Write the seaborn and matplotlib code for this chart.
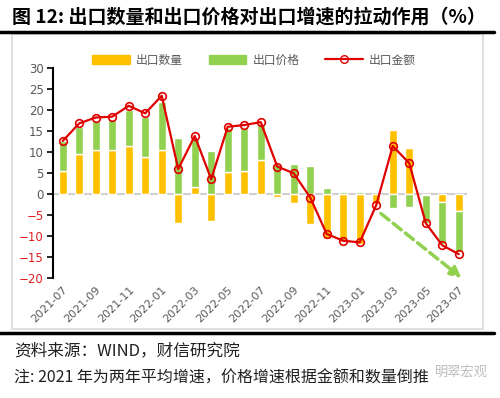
import numpy as np
import pandas as pd
import seaborn as sns
import matplotlib.pyplot as plt
from matplotlib.lines import Line2D
from matplotlib.patches import Patch, Rectangle

months = ['2021-07', '2021-08', '2021-09', '2021-10', '2021-11', '2021-12',
          '2022-01', '2022-02', '2022-03', '2022-04', '2022-05', '2022-06',
          '2022-07', '2022-08', '2022-09', '2022-10', '2022-11', '2022-12',
          '2023-01', '2023-02', '2023-03', '2023-04', '2023-05', '2023-06',
          '2023-07']
# 出口数量 (quantity contribution)
quantity = [5.6, 9.5, 10.6, 10.6, 11.5, 8.8, 10.5, -6.8, 1.6, -6.3, 5.3, 5.6,
            8.2, -0.7, -2.0, -7.1, -10.7, -11.5, -11.9, -2.4, 15.4, 11.0,
            -0.3, -1.8, -4.1]
# 出口价格 (price contribution)
price = [7.0, 6.6, 6.9, 7.1, 8.5, 9.6, 11.6, 13.4, 11.5, 10.3, 10.5, 10.2,
         8.5, 7.3, 7.2, 6.8, 1.4, 0.5, 0.6, -0.2, -3.3, -3.1,
         -6.5, -10.0, -9.8]
# 出口金额 (export value growth)
total = [12.7, 16.9, 18.3, 18.5, 21.1, 19.3, 23.5, 6.0, 13.9, 3.6, 16.1, 16.5,
         17.2, 6.6, 5.0, -0.8, -9.5, -11.1, -11.5, -2.6, 11.5, 7.4,
         -6.9, -12.2, -14.3]

ORANGE = '#FFC000'
GREEN = '#92D050'
RED = '#E00000'
GRAY = '#595959'

sns.set_theme(style='white')
plt.rcParams['font.family'] = ['DejaVu Sans', 'Noto Sans CJK SC']
cjk = ['Noto Sans CJK SC', 'DejaVu Sans']

df = pd.DataFrame({'month': months, 'quantity': quantity,
                   'price': price, 'total': total})
df['x'] = np.arange(len(df))
# Excel-style stacking: same-sign values stack, opposite signs start at zero
q = df['quantity'].to_numpy()
p = df['price'].to_numpy()
price_bottom = np.where(np.sign(p) == np.sign(q), q, 0)

fig = plt.figure(figsize=(5, 3.98), dpi=100)
ax = fig.add_axes([0.1066, 0.3015, 0.8274, 0.5264])

w = 0.5
ax.bar(df['x'], q, width=w, color=ORANGE, zorder=2)
ax.bar(df['x'], p, width=w, bottom=price_bottom, color=GREEN, zorder=2)
ax.axhline(0, color='#D0D0D0', lw=1.5, zorder=1)

sns.lineplot(data=df, x='x', y='total', ax=ax, color=RED, lw=1.6,
             marker='o', markersize=5.5, markerfacecolor='none',
             markeredgecolor=RED, markeredgewidth=1.2, zorder=3)

# downward trend arrow
ax.annotate('', xy=(24.3, -20.4), xytext=(19.15, -4.2),
            arrowprops=dict(arrowstyle='-|>', color=GREEN, lw=2.5,
                            ls=(0, (3, 1.5)), mutation_scale=16),
            annotation_clip=False, zorder=4)

ax.set_xlim(-0.57, 24.5)
ax.set_ylim(-20, 30)
ax.set_yticks(range(-20, 31, 5))
ax.set_xticks(df['x'][::2])
ax.set_xticklabels(df['month'][::2], rotation=45, ha='right',
                   rotation_mode='anchor', fontsize=8, color=GRAY)
ax.tick_params(axis='x', length=0, pad=5)
ax.tick_params(axis='y', direction='out', length=4, width=1.2,
               color='black', labelsize=8.5, pad=3, left=True)
for lab in ax.get_yticklabels():
    v = float(lab.get_text().replace('−', '-'))
    lab.set_color('#E02020' if v < 0 else GRAY)
ax.set_xlabel('')
ax.set_ylabel('')
for s in ['top', 'right', 'bottom']:
    ax.spines[s].set_visible(False)
ax.spines['left'].set_color('black')
ax.spines['left'].set_linewidth(1.5)

handles = [Patch(color=ORANGE), Patch(color=GREEN),
           Line2D([], [], color=RED, lw=1.6, marker='o', markersize=5.5,
                  markerfacecolor='none', markeredgecolor=RED)]
fig.legend(handles, ['出口数量', '出口价格', '出口金额'], loc='center',
           bbox_to_anchor=(0.508, 0.849), ncol=3, frameon=False,
           prop={'family': cjk, 'size': 8.5}, labelcolor=GRAY,
           handlelength=3.2, handleheight=0.7, columnspacing=2.2,
           handletextpad=0.5)

# frame and rules
fig.patches.append(Rectangle((12 / 500, 1 - 329 / 398), 471 / 500, 295 / 398,
                             transform=fig.transFigure, fill=False,
                             ec='#D9D9D9', lw=1.2))
for yy in [31.5, 333]:
    fig.add_artist(Line2D([0, 0.988], [1 - yy / 398] * 2, color='black',
                          lw=2.5, transform=fig.transFigure))

fig.text(0.024, 1 - 17 / 398, '图 12: 出口数量和出口价格对出口增速的拉动作用（%）',
         family=cjk, fontsize=13.7, fontweight='bold', va='center',
         color='black')
fig.text(0.028, 1 - 351 / 398, '资料来源：WIND，财信研究院', family=cjk,
         fontsize=12, va='center', style='italic', color='#202020')
fig.text(0.028, 1 - 378 / 398, '注: 2021 年为两年平均增速，价格增速根据金额和数量倒推',
         family=cjk, fontsize=11.5, va='center', style='italic', color='#202020')
fig.text(0.975, 1 - 372 / 398, '明翠宏观', family=cjk, fontsize=9.5,
         va='center', ha='right', color='#A0A0A0', alpha=0.7)

plt.savefig('out.png', dpi=100)
plt.close()
